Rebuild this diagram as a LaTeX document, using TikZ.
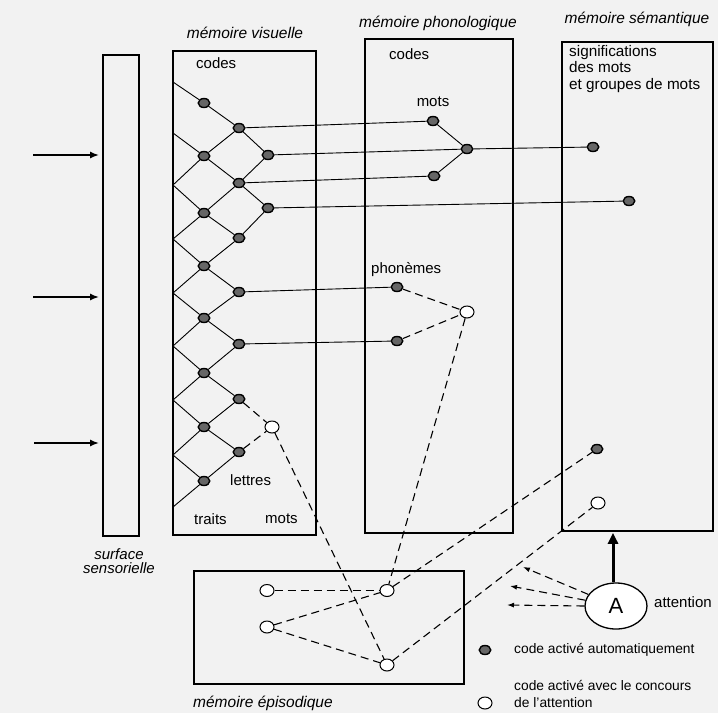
\documentclass[tikz,border=0pt]{standalone}
\usepackage{fontspec}
\setmainfont{Liberation Sans}
\usetikzlibrary{shapes.geometric,arrows.meta}
\begin{document}
\begin{tikzpicture}[x=1pt,y=-1pt,
  fnode/.style={ellipse,draw=black,line width=1.4pt,fill=black!60,minimum width=11.5pt,minimum height=9pt,inner sep=0pt},
  onode/.style={ellipse,draw=black,line width=1pt,fill=white,minimum width=14pt,minimum height=12pt,inner sep=0pt},
  membox/.style={draw=black,line width=1.7pt,rectangle,inner sep=0pt},
  lat/.style={line width=0.9pt},
  dsh/.style={line width=1.1pt,dash pattern=on 8pt off 5pt},
  lbl/.style={font=\fontsize{15}{17}\selectfont,inner sep=0pt},
  leg/.style={font=\fontsize{13.8}{16}\selectfont,inner sep=0pt,anchor=west},
  ttl/.style={font=\fontsize{15.5}{17}\selectfont\itshape,inner sep=0pt},
  inarrow/.style={line width=1.8pt,-{Latex[length=9pt,width=7pt]}},
  darrow/.style={dsh,-{Latex[length=7pt,width=5pt]}}
]
\fill[black!5] (0,0) rectangle (718,713);

% memory boxes
\node[membox,minimum width=36pt,minimum height=481pt] (sens) at (121,295.5) {};
\node[membox,minimum width=143pt,minimum height=484pt] (vis) at (244.5,293) {};
\node[membox,minimum width=148pt,minimum height=494pt] (phon) at (439,286) {};
\node[membox,minimum width=151pt,minimum height=489pt] (sem) at (637.5,286.5) {};
\node[membox,minimum width=270pt,minimum height=113pt] (epi) at (329,627.5) {};

% titles
\node[ttl] (tvis) at (245,33) {mémoire visuelle};
\node[ttl] (tphon) at (438,23) {mémoire phonologique};
\node[ttl] (tsem) at (637,19) {mémoire sémantique};
\node[ttl,anchor=west] (tepi) at (193,703) {mémoire épisodique};
\node[ttl,align=center,font=\fontsize{15}{14}\selectfont\itshape] (tsens) at (119,561) {surface\\sensorielle};

% input arrows
\coordinate (in1) at (33,155);
\coordinate (in2) at (33,297);
\coordinate (in3) at (34,443);
\foreach \k in {1,2,3} \draw[inarrow] (in\k) -- ([xshift=-3pt]in\k -| sens.west);

% labels inside boxes
\node[lbl,anchor=west] (cvis) at (196,63) {codes};
\node[lbl,anchor=west] (cphon) at (389,54) {codes};
\node[lbl] (lmots) at (433,102) {mots};
\node[lbl,anchor=west] (lphon) at (371,270) {phonèmes};
\node[lbl,anchor=north west,align=left,font=\fontsize{15.3}{16.5}\selectfont] (lsem) at (569,45) {significations\\des mots\\et groupes de mots};
\node[lbl,anchor=west] (llet) at (230,480) {lettres};
\node[lbl,anchor=west] (ltr) at (194,519) {traits};
\node[lbl,anchor=west] (lmv) at (265,519) {mots};

% lattice
\foreach \y [count=\i from 0] in {82,133,185,239,293,346,400,455,507}
  \coordinate (l\i) at (173,\y);
\foreach \y [count=\i from 0] in {103,156,213,266,318,373,427,481}
  \node[fnode] (a\i) at (204,\y) {};
\foreach \y [count=\i from 0] in {128,183,238,292,344,399,452}
  \node[fnode] (b\i) at (239,\y) {};
\node[fnode] (c0) at (268,155) {};
\node[fnode] (c1) at (268,208) {};

\foreach \i in {0,...,7} \draw[lat] (l\i) -- (a\i);
\foreach \i [evaluate=\i as \j using int(\i+1)] in {1,...,7} \draw[lat] (l\j) -- (a\i);
\foreach \i [evaluate=\i as \j using int(\i+1)] in {0,...,6} {
  \draw[lat] (a\i) -- (b\i);
  \draw[lat] (a\j) -- (b\i);
}
\draw[lat] (b0) -- (c0) -- (b1) -- (c1) -- (b2);

% phonological nodes
\node[fnode] (m1) at (433,121) {};
\node[fnode] (m2) at (467,149) {};
\node[fnode] (m3) at (434,176) {};
\node[fnode] (p1) at (397,287) {};
\node[fnode] (p2) at (397,341) {};
\node[onode] (po) at (467,312) {};

% semantic nodes
\node[fnode] (s1) at (593,147) {};
\node[fnode] (s2) at (629,201) {};
\node[fnode] (s3) at (597,449) {};
\node[onode] (s4) at (598,503) {};

% visual open node
\node[onode] (vo) at (272,427) {};

% episodic nodes
\node[onode] (e1) at (267,590.5) {};
\node[onode] (e2) at (387,590.5) {};
\node[onode] (e3) at (267,627) {};
\node[onode] (e4) at (387,665) {};

% solid links
\draw[lat] (b0) -- (m1);
\draw[lat] (c0) -- (m2) -- (s1);
\draw[lat] (b1) -- (m3);
\draw[lat] (m1) -- (m2) -- (m3);
\draw[lat] (c1) -- (s2);
\draw[lat] (b3) -- (p1);
\draw[lat] (b4) -- (p2);

% dashed links
\draw[dsh] (b5) -- (vo);
\draw[dsh] (b6) -- (vo);
\draw[dsh] (p1) -- (po);
\draw[dsh] (p2) -- (po);
\draw[dsh] (vo) -- (e4);
\draw[dsh] (po) -- (e2);
\draw[dsh] (e1) -- (e2);
\draw[dsh] (e3) -- (e2);
\draw[dsh] (e3) -- (e4);
\draw[dsh] (e2) -- (s3);
\draw[dsh] (e4) -- (s4);

% attention
\node[ellipse,draw=black,line width=1.3pt,fill=white,minimum width=62pt,minimum height=46pt,inner sep=0pt,font=\fontsize{22}{22}\selectfont] (A) at (616,606) {A};
\node[lbl,anchor=west] (latt) at (654,602) {attention};
\draw[line width=3pt,-{Triangle[length=11pt,width=10pt]}] ([xshift=-3pt]A.north) -- ([xshift=-3pt,yshift=-1pt]A.north |- sem.south);
\coordinate (t1) at (523,567);
\coordinate (t2) at (510,586);
\coordinate (t3) at (507,605);
\draw[darrow] (A) -- (t1);
\draw[darrow] (A) -- (t2);
\draw[darrow] (A.west) -- (t3);

% legend
\node[fnode] (lg1) at (485,650) {};
\node[leg] (lgt1) at (514,650) {code activé automatiquement};
\node[onode] (lg2) at (485,703) {};
\node[leg] (lgt2) at (514,685) {code activé avec le concours};
\node[leg] (lgt3) at (514,703) {de l'attention};
\end{tikzpicture}
\end{document}
